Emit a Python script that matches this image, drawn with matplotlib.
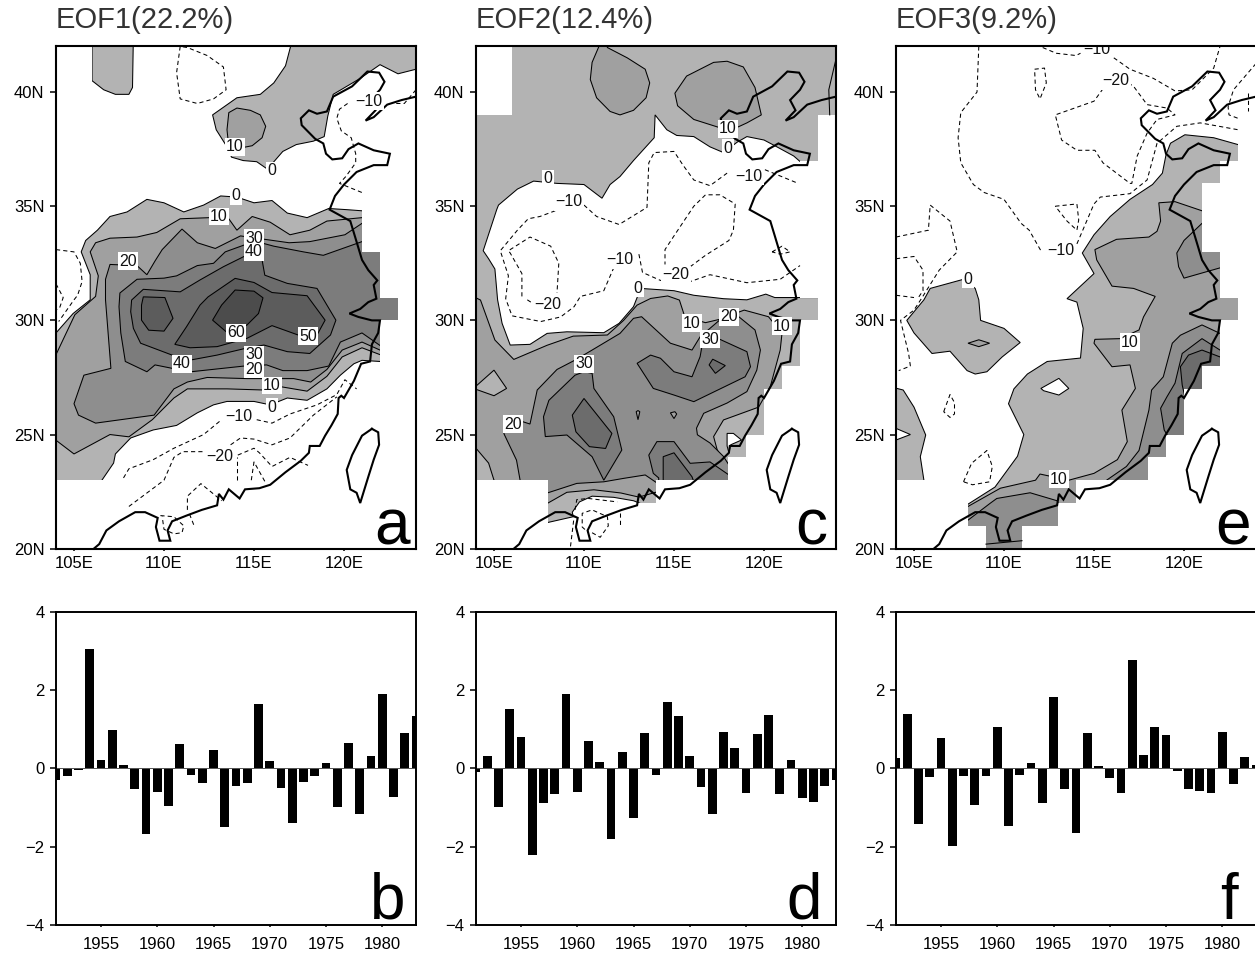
import matplotlib
matplotlib.use("Agg")
import matplotlib.pyplot as plt
from matplotlib.patches import Polygon
from matplotlib.path import Path

plt.rcParams['font.family'] = ['Liberation Sans', 'DejaVu Sans']

# ---------- data: time series ----------
YEARS = list(range(1951, 1984))
PC1 = [-0.29,-0.2,-0.04,3.06,0.22,0.99,0.09,-0.52,-1.68,-0.6,-0.95,0.62,-0.18,-0.38,0.46,-1.51,-0.46,-0.38,1.64,0.19,-0.49,-1.4,-0.35,-0.19,0.14,-0.99,0.64,-1.16,0.31,1.91,-0.74,0.89,1.34]
PC2 = [-0.09,0.31,-0.99,1.51,0.79,-2.21,-0.89,-0.66,1.9,-0.6,0.71,0.15,-1.8,0.42,-1.26,0.9,-0.18,1.69,1.34,0.31,-0.47,-1.17,0.92,0.53,-0.63,0.88,1.35,-0.66,0.21,-0.76,-0.86,-0.45,-0.29]
PC3 = [0.26,1.4,-1.43,-0.22,0.78,-1.97,-0.2,-0.94,-0.19,1.06,-1.46,-0.18,0.14,-0.88,1.83,-0.53,-1.66,0.9,0.06,-0.24,-0.64,2.76,0.33,1.05,0.85,-0.08,-0.54,-0.58,-0.63,0.94,-0.4,0.29,0.09]
TITLES = ['EOF1(22.2%)', 'EOF2(12.4%)', 'EOF3(9.2%)']
MAP_LETTERS = ['a', 'c', 'e']
BAR_LETTERS = ['b', 'd', 'f']
LON_TICKS = [105, 110, 115, 120]
LON_LABELS = ['105E', '110E', '115E', '120E']
LAT_TICKS = [20, 25, 30, 35, 40]
LAT_LABELS = ['20N', '25N', '30N', '35N', '40N']
YEAR_TICKS = [1955, 1960, 1965, 1970, 1975, 1980]
PC_TICKS = [-4, -2, 0, 2, 4]
LEVEL_GREYS = ['#b3b3b3', '#a0a0a0', '#8e8e8e', '#7c7c7c', '#6c6c6c', '#5c5c5c', '#4c4c4c']

# ---------- data: geography (lon, lat) ----------
COAST = [(106.1,20.0),(106.4,20.2),(106.8,20.8),(107.5,21.2),(108.4,21.6),(108.95,21.6),(109.65,21.35),(109.55,20.95),(109.75,20.35),(110.35,20.35),(110.2,20.8),(110.45,21.2),(111.25,21.45),(112.1,21.7),(112.95,21.9),(113.05,22.4),(113.3,22.15),(113.6,22.6),(114.2,22.2),(114.5,22.6),(115.3,22.65),(115.9,22.8),(116.75,23.35),(117.6,23.85),(118.05,24.2),(118.1,24.5),(118.65,24.5),(118.95,24.95),(119.3,25.4),(119.65,25.9),(119.7,26.6),(119.85,26.7),(120.0,26.6),(120.55,27.35),(120.95,28.1),(121.45,28.2),(121.55,28.95),(121.9,29.45),(122.0,30.0),(121.55,30.0),(120.8,30.15),(120.3,30.3),(120.9,30.5),(121.35,30.8),(121.8,30.95),(121.65,31.55),(121.85,31.75),(121.35,32.2),(121,32.65),(120.6,33.7),(120.35,34.35),(119.2,34.85),(119.5,35.45),(120,35.95),(120.7,36.5),(121.65,36.8),(122.4,36.8),(122.55,37.3),(121.65,37.45),(120.8,37.75),(120.25,37.5),(119.9,37.1),(119.35,37.05),(119,37.3),(118.85,37.75),(118.4,37.95),(117.65,38.55),(117.6,38.85),(118.05,39.2),(118.5,39.05),(119.05,39.15),(119.4,39.8),(120.45,40.25),(121.3,40.9),(121.95,40.85),(122.25,40.45),(122,40.1),(121.45,39.65),(121.75,39.2),(121.2,38.75),(121.65,38.9),(122.4,39.45),(123.2,39.65),(124,39.8)]
TAIWAN = [(121.55,25.25),(121.9,25.1),(121.95,24.55),(121.65,23.9),(121.35,23.15),(120.9,22.0),(120.7,22.45),(120.35,22.6),(120.15,23.45),(120.45,24.1),(121,24.95),(121.55,25.25)]
GRID_MASK = [(103.5,39),(106,39),(106,42.5),(124.5,42.5),(124.5,39),(123,39),(123,37),(122,37),(122,36),(121,36),(121,33),(122,33),(122,31),(123,31),(123,30),(122,30),(122,28),(121,28),(121,27),(120,27),(120,25),(119,25),(119,24),(118,24),(118,23),(114,23),(114,22),(113,22),(113,21),(111,21),(111,20),(109,20),(109,21),(108,21),(108,23),(103.5,23)]

# ---------- data: EOF1 contours ----------
A0_NW = [(106,42.5),(106,40.5),(106.65,40.1),(107.3,39.9),(108.05,39.9),(108.25,40.2),(108.3,42.5)]
A0_N = [(117.2,42.5),(116.75,41.15),(116.1,40.4),(115.35,39.9),(114.05,39.75),(112.7,39),(112.9,38.35),(113.5,37.6),(113.75,37.15),(114.4,37),(115.15,36.95),(115.7,36.65),(116.05,36.9),(116.6,37.4),(117.35,37.7),(118.3,37.85),(118.9,38.05),(119.1,38.95),(119.4,39.9),(120.9,40.6),(122,41.2),(123,40.8),(124.5,41.1),(124.5,42.5)]
A10_N = [(113.6,39.1),(114.05,39.3),(114.8,39.2),(115.35,39),(115.65,38.5),(115.45,38),(114.9,37.65),(114.25,37.55),(113.6,37.6),(113.5,38.35)]
A0_S = [(103.5,28.9),(104,29.45),(104.95,30.3),(105.9,30.9),(105.9,32),(105.4,33),(105.65,33.5),(106.3,33.95),(107,34.55),(107.95,34.75),(109.05,35.3),(110,35.15),(111.1,34.75),(112.2,35.05),(113.15,35.45),(114.05,35.4),(115,35.15),(116,35.25),(116.85,34.7),(117.95,34.5),(119.15,34.9),(120.15,34.85),(121,34.8),(124.5,34.8),(124.5,28.2),(122,28.2),(121,28.25),(120.55,28.1),(119.8,27.6),(119.05,27),(117.95,26.5),(116.85,26.6),(115.9,26.3),(115,26.45),(113.5,26.45),(112.75,26.3),(111.85,25.95),(110.7,25.4),(109.4,25.2),(108.15,24.85),(107.3,24.15),(107.2,23.75),(106.55,23),(106.55,22.5),(103.5,22.5)]
A10_S = [(103.5,27.8),(104,28.5),(105.05,30.25),(106.2,31.05),(106.35,31.95),(105.9,33),(106.2,33.4),(107,33.6),(108.5,33.65),(109.6,33.85),(110.9,34.45),(112.55,34.5),(113.6,34.45),(114.05,33.95),(114.9,34.55),(115.9,34.3),(117,33.75),(118.1,33.95),(119.05,34.35),(121,34.5),(124.5,34.5),(124.5,28.3),(122,28.5),(121,28.8),(119.9,28.4),(119.05,27.55),(117.95,26.9),(116.45,27.1),(115.55,26.95),(113.5,27),(111.3,27),(110.55,26.6),(109.35,25.65),(108.05,24.9),(107,25),(105,24.15),(104,24.75),(103.5,24.3)]
A20_S = [(106.75,31.8),(107,32.45),(108.5,32.4),(109.05,32),(109.5,32.6),(109.9,33.1),(111,34),(111.85,33.4),(112.85,33.15),(114.25,33.7),(116.95,33.4),(118.1,33.45),(120.05,33.75),(121,34.25),(124.5,34.25),(124.5,28.5),(122,28.7),(121,29.05),(119.9,28.7),(119.05,27.85),(118.15,27.3),(117.2,27.45),(116.1,27.45),(114.6,27.45),(112.4,27.5),(111.3,27.3),(110.55,27),(109.45,25.85),(106.2,25.5),(105.25,25.85),(105,26.35),(105.55,27.6),(107.05,27.9),(106.75,30.9)]
A30_S = [(107.55,31.2),(108.5,31.8),(110,31.85),(110.7,31.95),(111.85,32.4),(112.75,32.5),(113.4,33),(114.45,33.3),(115.15,33.45),(116.1,33.25),(117.75,33),(118.85,32.85),(121,33.45),(124.5,33.45),(124.5,28.8),(122,28.9),(121,29.45),(119.8,29.05),(119.15,28),(117.95,27.8),(116.6,27.8),(115.7,28.05),(114.45,28),(111.5,27.75),(110.45,27.9),(109.5,28.05),(109.05,27.75),(107.85,28.2),(107.6,29.45),(107.5,30.6)]
A40_S = [(108.15,30.38),(108.2,30.89),(108.85,31.36),(110.9,31.25),(112,31.77),(113.3,32.35),(114.6,32.86),(115.45,32.64),(115.6,31.98),(116.85,31.62),(118.5,31.4),(119.55,30.01),(119.25,29.36),(118.1,28.55),(116.85,28.63),(115.55,28.92),(114.5,28.77),(112.95,28.48),(111.45,28.26),(110.45,28.48),(108.7,29),(108.3,29.65)]
A50_E = [(110.6,28.95),(111.25,29.72),(112,30.67),(112.45,31.03),(113.95,31.84),(115,31.66),(116,31.22),(117.95,31.08),(118.95,30.01),(118.5,29.36),(117.45,29.36),(116,29.77),(114.6,29.21),(112.95,28.85),(111.45,28.8)]
A50_W = [(108.85,31.03),(110.05,31),(110.5,30.09),(110,29.53),(109.15,29.57),(108.75,30.01),(108.75,30.67)]
A60 = [(113.95,31.33),(115,31.28),(115.5,30.99),(115.25,30.3),(114.6,29.79),(113.5,29.47),(112.7,30.01),(113.2,30.67)]
A_NEG = [
    [(110.9,42),(110.7,40.85),(110.9,39.7),(111.85,39.5),(112.75,39.7),(113.45,40.1),(113.3,41.1),(112.4,41.6),(111.3,41.95),(110.9,42)],
    [(124,40.1),(123.35,39.5),(122.8,39.5)],
    [(120.2,39.5),(119.75,39.25),(119.6,38.85),(119.85,38.3),(120.4,38),(120.65,37.3),(120.65,36.9),(120.1,36.3),(119.75,36),(121,35.6)],
    [(104,33.1),(105,33),(105.35,32.5),(105.45,31.7),(105.2,31.1),(105,30.9),(104.15,29.95)],
    [(104,31.6),(104.4,31),(104.2,30.55),(104,30.45)],
    [(107.75,23.1),(108.05,23.5),(109.4,23.9),(110.55,24.4),(112.2,25),(113.2,25.65)],
    [(115.15,25.65),(116,25.5),(117,25.9),(118.5,26.3),(119.6,26.75),(120.05,27.4),(120.7,27)],
    [(108.05,21.85),(110,23),(110.55,24),(111.05,24.25),(112.15,24.25)],
    [(114.1,24.1),(115,24.4),(115.3,24.2),(116,23.6),(117,24),(118,23.65)],
    [(113.7,24.55),(114.25,24.85),(115,24.8),(116,24.55),(117,24.85),(118.3,25.85),(119.6,26.65)],
    [(114.05,23),(114.05,24)],
    [(114.85,23),(115,23.8),(115.6,22.95)],
    [(111.3,21.7),(111.3,22.3),(112.05,22.85),(112.9,22.3),(113.2,22.1)],
    [(111.65,21.05),(111.4,21.55)],
    [(109.8,21.45),(110.55,21.4),(111.1,21),(111,20.7),(110.55,20.65),(110,20.85),(109.9,21.4)],
]
A_LABELS = [(113.95,37.6,'10'),(116,36.55,'0'),(114,35.45,'0'),(113.05,34.55,'10'),(115,33.6,'30'),(115,33,'40'),(108,32.6,'20'),(114,29.45,'60'),(118,29.3,'50'),(111,28.1,'40'),(115,28.5,'30'),(115,27.85,'20'),(116,27.15,'10'),(116,26.2,'0'),(114.15,25.8,'−10'),(113.1,24.05,'−20'),(121.4,39.6,'−10')]

# ---------- data: EOF2 contours ----------
C0 = [(103.5,42.5),(124.5,42.5),(124.5,36.9),(122,36.96),(121.65,37.2),(120.6,37.65),(120,37.9),(119.05,38.05),(118.5,37.8),(117.75,37.35),(117,37.6),(116.1,38.05),(115.15,38.1),(114.6,38.35),(113.95,39),(113.9,38),(112.75,37),(112,36.3),(111.45,35.95),(111,35.35),(110,35.95),(108.5,36),(107.2,36.1),(106.3,35.75),(105.25,35.05),(105.15,34.85),(104.4,33.05),(104.7,32.7),(105.05,32.25),(105.2,30.9),(105.45,29.87),(105.9,28.92),(107,28.95),(107.95,29.43),(109.05,29.5),(111.1,29.46),(111.95,29.87),(112.75,30.6),(113.15,31.4),(115,31.3),(116.1,31.1),(117.75,30.95),(119.05,30.9),(120.1,31.15),(120.6,31),(121.75,31),(124.5,31),(124.5,21.5),(113.2,21.96),(112.75,22.1),(111.65,22.25),(110.45,22.3),(109.75,22.05),(109.35,21.6),(109.4,21.4),(108,21.15),(103.5,21.15)]
C10_B1 = [(111.1,42.5),(110.45,41.3),(110.35,40.55),(110.7,39.75),(111.45,39.15),(112,39),(112.75,39.2),(113.45,39.75),(113.65,40.4),(113.4,41),(112.4,41.5),(111.3,41.95)]
C10_B2 = [(115.05,39.95),(115.7,40.7),(117.2,41.3),(117.95,41.35),(118.85,41.1),(119.5,40.2),(119.85,39),(119.05,38.65),(118.5,38.45),(117.5,38.45),(116.1,38.8),(115.2,39.4)]
C10 = [(103.5,31.18),(104.25,30.89),(105.05,29.14),(106.1,28.29),(107.95,28.91),(109.4,29.31),(111.3,29.36),(112.2,30.0),(112.95,30.67),(113.7,30.96),(114.65,31.07),(115.3,30.89),(115.6,30.16),(116.75,29.9),(117.5,30.04),(118.9,30.45),(120.25,30.16),(121,29.43),(120.9,28.7),(120.35,27.1),(119.7,26.2),(117.75,25.64),(117.2,24.91),(117.4,24.33),(118.05,23.45),(118.05,22.7),(115,22.7),(113.05,22.26),(112.05,22.44),(110.55,22.58),(109.05,22.47),(108,22),(107.55,22.1),(105,23),(104.7,23.75),(104,24.4),(103.5,24.0)]
C20 = [(106.45,23),(106.25,23.88),(105.55,25.04),(105.75,25.78),(107,25.46),(107.4,26.95),(108.5,27.85),(109.5,28.26),(110.45,28.7),(112,29.43),(112.75,30.09),(113.2,30.16),(114.8,29),(116,28.7),(116.45,29.28),(117.5,29.99),(118.05,30.23),(118.6,30.16),(119.5,29.58),(119.8,28.7),(119.6,27.82),(119.05,26.88),(117.95,26.38),(116.65,25.93),(116.25,25.28),(116.3,24.99),(117,24.63),(117.75,24.04),(118.05,23.67),(118.5,23.0),(118.5,22.5),(114.2,22.5),(114.2,22.8),(113.4,23.23),(112.2,23.08),(111.1,22.93),(109.6,22.86),(108,22.45),(107.5,22.3),(106.45,22.5)]
C30_W = [(110,27.75),(109.5,27.6),(108.05,26.5),(107.75,25.78),(107.85,24.91),(109.05,24.98),(110.45,24.03),(111.1,23),(112.1,24.32),(111.65,25.78),(110.55,27.02),(110.45,27.68)]
C30_E = [(112.95,28.12),(113.7,28.48),(114.25,28.34),(115,27.75),(116,27.53),(116.45,28.41),(116.55,28.85),(117.55,29.17),(119.05,28.63),(119.25,27.97),(118.95,27.53),(116.1,26.44),(115,26.73),(113.85,27.02)]
C30_S = [(113.6,24.1),(114.05,24.69),(115,24.69),(115.9,23.74),(117,23.8),(118.05,23.23),(118.5,23.1),(118.5,22.5),(114.15,22.5),(114.15,23.1),(113.85,23.3)]
C40_W = [(109.35,25.85),(110,26.58),(111.55,25.05),(111.2,24.39),(110.3,24.47),(109.55,25.12)]
C40_E = [(116.95,28.05),(117.15,28.3),(117.85,28.02),(117.3,27.68)]
C40_S = [(114.4,24.03),(115,24.2),(116,23.15),(116.3,22.5),(114.4,22.5)]
C_SPOT1 = [(113,26.05),(113.1,26),(113,25.65),(112.9,26)]
C_SPOT2 = [(114.8,25.95),(115.05,26),(115.15,25.9),(115,25.7)]
C_DIAMOND = [(103.5,26.9),(104,27.12),(105,27.82),(105.7,27.02),(105,26.7),(104,26.98)]
C_WHITE = [(117.95,25.05),(118.3,25.05),(118.75,24.76),(118.15,24.55),(118.05,24.2),(117.95,24.5)]
C_LINES = [[(124,41.45),(123.6,40.1),(123.65,39)]]
C_NEG = [
    [(108.4,34.8),(107.55,34.55),(106.9,34.45),(106.3,33.95),(105.35,33.05),(105.8,31.95),(105.65,30.95),(106,30.2),(107.6,29.95),(108.7,30.15),(109.45,30.6),(109.8,31.05),(111.1,31.3),(111.65,32.3)],
    [(113.05,32.9),(113.25,32.1),(114.25,31.75),(115.9,31.7),(117,32),(119.05,31.65),(120.9,31.8),(122,32.4)],
    [(110,35.05),(110.7,34.55),(111.95,34.2),(113.5,34.95),(113.6,36.9),(113.9,37.35),(115,37.4),(115.5,36.8),(116.1,36.15),(117,35.9),(117.95,36.45)],
    [(120.05,36.6),(121.9,36)],
    [(115.9,32.35),(116.75,32.85),(118.05,33.5),(118.3,33.95),(118.4,35.1),(117.55,35.5),(116.75,35.5),(116.1,35),(115,33.7),(114.5,33.1),(114.5,32.45)],
    [(120.45,33),(121,33.25),(121.45,33),(120.9,32.9),(120.45,33)],
    [(106.55,31.05),(106.55,32.05),(105.9,32.95),(105.8,33.05),(107,33.65),(108.15,33.25),(108.6,32.5),(108.5,31.2)],
    [(106.85,30.9),(107.3,30.67)],
    [(109.5,21.7),(109.6,22.15),(110.25,22.2),(111.85,22.05)],
    [(109.25,20.1),(109.45,21.4)],
    [(110.45,20.7),(110.9,20.5),(111.35,21),(111.3,21.4),(110.45,21.7),(109.9,21.55),(109.9,20.95),(110.25,20.7)],
    [(112,21.55),(112,21)],
]
C_LABELS = [(108,36.2,'0'),(118,38.4,'10'),(118,37.55,'0'),(109.15,35.2,'−10'),(119.15,36.3,'−10'),(112,32.65,'−10'),(115.1,32,'−20'),(108,30.7,'−20'),(113,31.4,'0'),(116,29.87,'10'),(118.05,30.16,'20'),(117,29.17,'30'),(121,29.75,'10'),(110,28.1,'30'),(106.05,25.46,'20')]

# ---------- data: EOF3 contours ----------
E0_MAIN = [(123,37.7),(121.65,38),(120.05,38.13),(119.25,37.76),(119,37.25),(118.8,36.45),(118.25,35.95),(117,35.3),(115.9,34.55),(115,33.75),(114.35,32.95),(115,32.05),(113.5,30.95),(114.05,30.8),(114.4,29.65),(114.25,28.35),(112.4,28.2),(111.3,27.65),(110.55,27),(110.25,26.35),(111.1,25),(110.75,24.05),(109.5,22.7),(108,21.95),(107.5,21.7),(107.5,19.5),(124.5,19.5),(124.5,37.7)]
E0_WEST = [(104.6,30),(105,29.45),(106,28.55),(107,28.65),(107.95,27.8),(108.4,27.65),(109.05,27.75),(109.9,28.4),(110.9,29.03),(110,29.65),(108.7,30),(108.6,30.9),(108.4,31.4),(107.75,31.8),(105.9,31.4),(105.55,30.9)]
E0_LOW = [(104,27.03),(104.4,26.95),(105,26.2),(105.65,24.98),(105.35,24.03),(105.55,23),(105.55,22.5),(103.5,22.5),(103.5,27.03)]
E_HOLE1 = [(103.5,25.4),(104,25.27),(104.8,25),(104,24.76),(103.5,24.7)]
E_HOLE2 = [(112.05,27.02),(113.05,27.46),(113.6,27.02),(113.05,26.73),(112.2,26.92)]
E10_SPOT = [(108,29),(108.6,29.15),(109.2,29),(108.6,28.85)]
E10 = [(124.5,34.7),(121,34.8),(119.5,35.2),(118.6,35.15),(118.7,34.35),(118.5,33.9),(118.05,33.65),(116.25,33.55),(115.05,33.1),(115.15,32.65),(116,31.5),(117.2,31.4),(118.4,31.05),(117.75,30.15),(117.5,29.58),(116.45,29.2),(115.05,29.17),(115,29),(116,27.97),(117,28.05),(117.3,27.02),(116.55,26.07),(116.85,24.69),(116.3,23.9),(115,23.3),(113.6,23),(112,23.27),(111.75,23),(109.8,22.65),(108,21.85),(107.5,21.6),(107.5,19.5),(124.5,19.5)]
E20_E = [(115.7,23),(116.8,23.6),(117.5,24.3),(118.05,26.07),(118.2,26.95),(118.85,27.53),(119.35,29),(119.8,29.35),(121,29.8),(122,29.43),(124.5,29.43),(124.5,22),(115.7,22)]
E20_N = [(122,32.3),(120,31.85),(119.7,32.35),(119.6,32.95),(120,33.5),(121,34.25),(124.5,34.25),(124.5,32)]
E20_S = [(107.5,21),(108,21.25),(109.25,22),(109.6,22.2),(111.45,22.45),(112.95,22.1),(113.1,21.8),(113.1,19.5),(107.5,19.5)]
E30 = [(118.9,25.2),(118.7,26.15),(119.05,26.65),(119.5,27.25),(119.9,28.55),(121,29.2),(122,28.7),(124.5,28.7),(124.5,24.8),(119.2,24.8)]
E40 = [(119.9,27.17),(119.8,27.97),(120.25,28.48),(121,28.7),(122,28.4),(124.5,28.4),(124.5,26.65),(120.05,26.65)]
E_LINES = [[(109,20.2),(111,20.35)]]
E_NEG = [
    [(112.15,41.95),(112.9,41.7),(114,41.6),(114.25,41.7)],
    [(116.1,41.5),(117,41),(118.3,40.6),(119.5,40.05),(120.45,40.1),(121.65,41.05),(122,42)],
    [(108.6,42),(108.5,40),(107.6,39.1),(107.45,38),(107.6,36.9),(108.3,35.95),(108.9,35.6),(110,35.3),(110.95,34.25),(111.4,33.95),(112.05,33.05)],
    [(114.05,33.35),(115,35.1),(115.35,35.4),(117,35.55),(117.95,36.15),(118.5,37.75),(119.6,38.5),(120.9,38.65),(123,38.35)],
    [(116.9,40.4),(117.2,40.25),(117.95,39.45),(119.05,39.3),(119.5,39),(118.5,38.8),(117.95,38.2),(117.4,37.2),(117.1,36),(117,36),(115.5,36.9),(115.05,37.45),(114.05,37.45),(113.2,37.9),(112.85,39),(115,39.6),(115.55,40.2)],
    [(111.7,41),(112.25,41.05),(112.35,40.4),(112,39.7),(111.75,40.1),(111.7,41)],
    [(124,41.25),(122.75,40.1),(122.45,39.35),(122.5,39),(123,38.85)],
    [(123.55,39.95),(123.55,39.15)],
    [(112.85,35),(114.05,35.1),(114.15,34.4),(114.05,33.95),(113.5,34.35),(112.85,35)],
    [(104,33.65),(105.8,33.95),(105.9,35.05),(107,34.35),(107.4,33),(106.4,32.2),(105.45,31),(105,30.45),(104.25,30),(104.7,28.55),(104.8,28),(104.15,27.8)],
    [(104,32.7),(105,32.8),(105.5,32.2),(105.5,31.3),(105.2,30.95)],
    [(104,31.1),(105,31)],
    [(106.65,26),(107,26.75),(107.25,26.4),(107.25,25.9),(107,25.75),(106.65,26)],
    [(107.75,22.93),(108.2,23.74),(109.05,24.3),(109.35,23.6),(109.2,22.93),(108.25,22.8),(107.75,22.93)],
]
E_LABELS = [(115.15,41.85,'−10'),(116.2,40.5,'−20'),(113.15,33.05,'−10'),(108,31.8,'0'),(117,29.05,'10'),(113.05,23.05,'10')]

# (polygon, grey level index, or None for a white hole), in painting order
A_FILLS = [(A0_NW,0),(A0_N,0),(A10_N,1),(A0_S,0),(A10_S,1),(A20_S,2),(A30_S,3),(A40_S,4),(A50_E,5),(A50_W,5),(A60,6)]
C_FILLS = [(C0,0),(C10_B1,1),(C10_B2,1),(C10,1),(C_DIAMOND,0),(C20,2),(C_SPOT1,1),(C_SPOT2,1),(C30_W,3),(C30_E,3),(C30_S,3),(C40_W,4),(C40_E,4),(C40_S,4),(C_WHITE,None)]
E_FILLS = [(E0_MAIN,0),(E0_WEST,0),(E0_LOW,0),(E_HOLE1,None),(E_HOLE2,None),(E10_SPOT,1),(E10,1),(E20_E,2),(E20_N,2),(E20_S,2),(E30,3),(E40,4)]

MAP_PANELS = [(A_FILLS,A_NEG,[],A_LABELS),(C_FILLS,C_NEG,C_LINES,C_LABELS),(E_FILLS,E_NEG,E_LINES,E_LABELS)]
PCS = [PC1, PC2, PC3]

# ---------- layout ----------
W, H = 1255, 955
LEFTS = [56, 476, 896]
PANEL_W = 360
MAP_LETTER_X = [0.983, 0.975, 0.985]
BAR_LETTER_X = [0.97, 0.96, 0.95]

fig = plt.figure(figsize=(W/100, H/100), dpi=100)

def axes_at(left, top, bottom):
    return fig.add_axes([left/W, 1-bottom/H, PANEL_W/W, (bottom-top)/H])

for i, left in enumerate(LEFTS):
    # map
    ax = axes_at(left, 46.4, 548.7)
    ax.set_xlim(104, 124)
    ax.set_ylim(20, 42)
    clip = Path(GRID_MASK + [GRID_MASK[0]], closed=True)
    fills, neg, lines, labels = MAP_PANELS[i]
    for z, (pts, lev) in enumerate(fills):
        color = 'white' if lev is None else LEVEL_GREYS[lev]
        p = Polygon(pts, closed=True, facecolor=color, edgecolor='black', linewidth=0.75, zorder=1+z*0.01)
        ax.add_patch(p)
        p.set_clip_path(clip, transform=ax.transData)
    for seg in neg:
        xs, ys = zip(*seg)
        ax.plot(xs, ys, color='black', lw=0.75, dashes=(4, 3), zorder=2)
    for seg in lines:
        xs, ys = zip(*seg)
        ax.plot(xs, ys, color='black', lw=0.75, zorder=2)
    for shape in (COAST, TAIWAN):
        xs, ys = zip(*shape)
        ax.plot(xs, ys, color='black', lw=1.5, zorder=3, solid_joinstyle='miter')
    for lon, lat, s in labels:
        ax.text(lon, lat, s, fontsize=11.5, ha='center', va='center', color='#111111', zorder=4, clip_on=True,
                bbox=dict(facecolor='white', edgecolor='none', pad=1.0))
    ax.set_xticks(LON_TICKS, LON_LABELS)
    ax.set_yticks(LAT_TICKS, LAT_LABELS)
    ax.tick_params(axis='x', length=1.5, width=1.1, pad=3.5, labelsize=12)
    ax.tick_params(axis='y', length=4.3, width=1.1, pad=4, labelsize=12)
    ax.set_title(TITLES[i], loc='left', fontsize=21, pad=13, color='#333333')
    ax.text(MAP_LETTER_X[i], 0.008, MAP_LETTERS[i], transform=ax.transAxes, ha='right', va='baseline', fontsize=46, zorder=6)
    for sp in ax.spines.values():
        sp.set_linewidth(1.5)
        sp.set_zorder(5)

    # time series
    bx = axes_at(left, 611.7, 925)
    bx.bar(YEARS, PCS[i], width=0.8, color='black')
    bx.axhline(0, color='#555555', lw=0.7)
    bx.set_xlim(1951, 1983)
    bx.set_ylim(-4, 4)
    bx.set_xticks(YEAR_TICKS)
    bx.set_yticks(PC_TICKS)
    bx.tick_params(axis='x', length=1.5, width=1.1, pad=7, labelsize=12)
    bx.tick_params(axis='y', length=4.3, width=1.1, pad=4, labelsize=12)
    bx.text(BAR_LETTER_X[i], 0.02, BAR_LETTERS[i], transform=bx.transAxes, ha='right', va='baseline', fontsize=46)
    for sp in bx.spines.values():
        sp.set_linewidth(1.4)

fig.savefig('out.png', dpi=100)
